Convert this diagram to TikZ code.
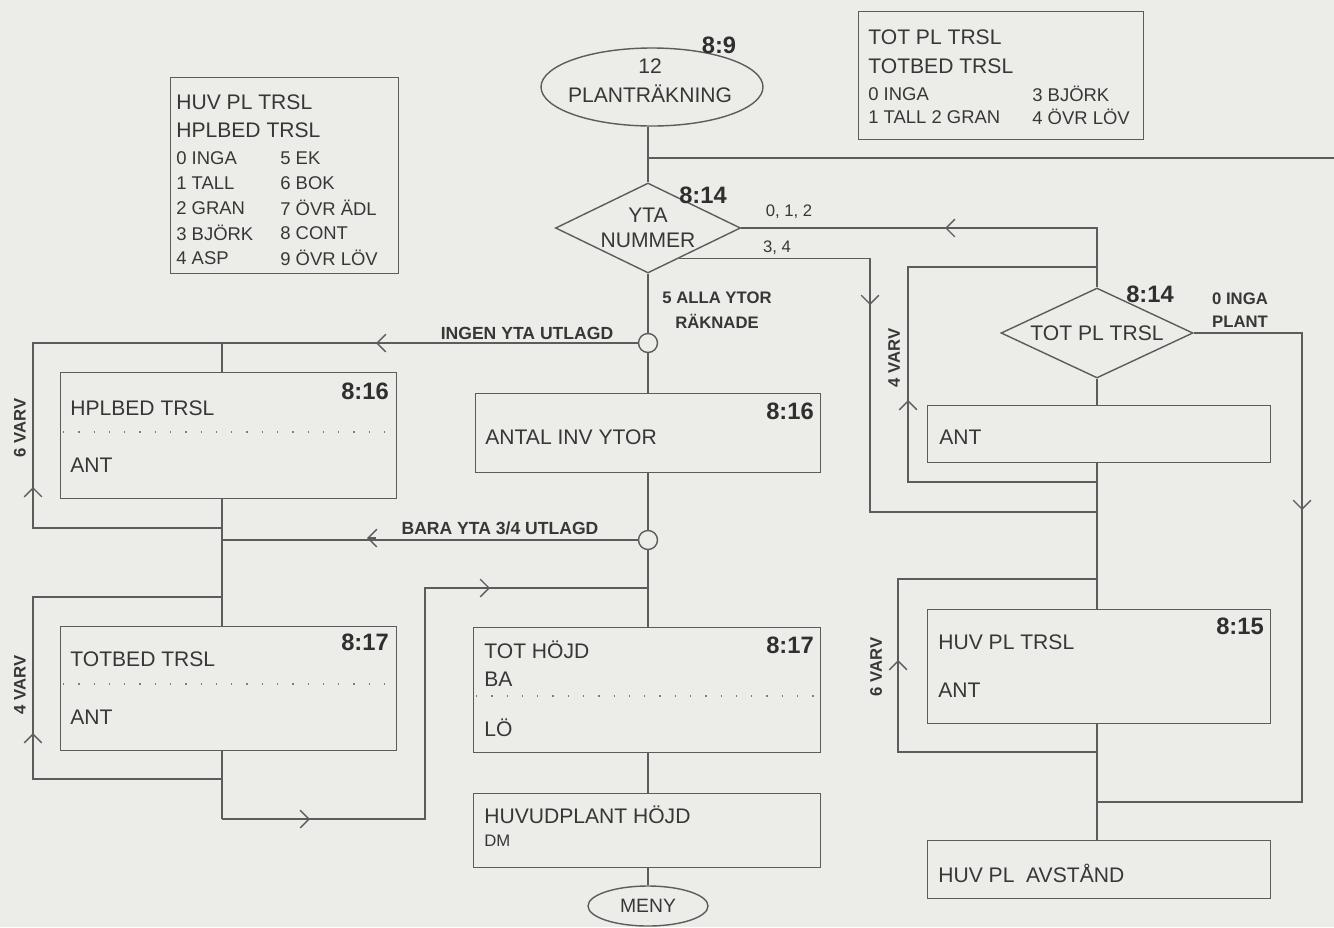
\documentclass[tikz,border=0pt]{standalone}
\usepackage{fontspec}
\setmainfont{Liberation Sans}
\usepackage{tikz}
\usetikzlibrary{arrows.meta,positioning,calc,shapes.geometric}
\definecolor{PaperGray}{RGB}{236,236,233}
\definecolor{InkGray}{RGB}{92,92,92}
\definecolor{TextGray}{RGB}{55,55,55}

\begin{document}
\begin{tikzpicture}[x=0.02cm,y=-0.02cm,
  line/.style={InkGray, line width=0.8pt},
  box/.style 2 args={draw=InkGray, line width=0.8pt, anchor=north west, inner sep=0pt,
    minimum width=#1*0.02cm, minimum height=#2*0.02cm},
  dia/.style={diamond, aspect=2, draw=InkGray, line width=0.8pt, inner sep=0pt, align=center,
    text=TextGray, font=\fontsize{12}{14}\selectfont},
  oval/.style={ellipse, draw=InkGray, line width=0.8pt, inner sep=0pt, text=TextGray},
  jn/.style={circle, draw=InkGray, line width=0.8pt, fill=PaperGray, minimum size=19*0.02cm, inner sep=0pt},
  lbl/.style={anchor=west, inner sep=0pt, text=TextGray, font=\fontsize{12}{14}\selectfont},
  lgd/.style={lbl, font=\fontsize{10.5}{12}\selectfont},
  num/.style={inner sep=0pt, text=TextGray!85!black, font=\bfseries\fontsize{13.5}{15}\selectfont},
  tag/.style={inner sep=0pt, text=TextGray, font=\bfseries\fontsize{9.5}{11}\selectfont},
  note/.style={inner sep=0pt, text=TextGray, font=\fontsize{9.5}{11}\selectfont},
  sep/.style={InkGray!80, line width=0.7pt, dash pattern=on 0.7pt off 8pt},
  chev/.style={line, -{Straight Barb[length=5pt,width=10pt]}}]
\def\lgdrow{25}
\fill[PaperGray] (0,0) rectangle (1334,927);
\useasboundingbox (0,0) rectangle (1334,927);

% code legends
\node[box={228}{196}] (lgdL) at (170,77) {};
\node[lbl] (lgdL-a) at (176,102) {HUV PL TRSL};
\node[lbl] (lgdL-b) at (176,130) {HPLBED TRSL};
\foreach \i/\a/\b in {0/0 INGA/5 EK,1/1 TALL/6 BOK,2/2 GRAN/7 ÖVR ÄDL,3/3 BJÖRK/8 CONT,4/4 ASP/9 ÖVR LÖV}{
  \node[lgd] (lgdL-l\i) at (176,{158+\lgdrow*\i}) {\a};
  \node[lgd] (lgdL-r\i) at (280,{158+\lgdrow*\i}) {\b};
}
\node[box={285}{128}] (lgdR) at (858,11) {};
\node[lbl] (lgdR-a) at (868,37) {TOT PL TRSL};
\node[lbl] (lgdR-b) at (868,66) {TOTBED TRSL};
\node[lgd] (lgdR-l0) at (868,94) {0 INGA};
\node[lgd] (lgdR-r0) at (1032,94) {3 BJÖRK};
\node[lgd] (lgdR-l1) at (868,117) {1 TALL 2 GRAN};
\node[lgd] (lgdR-r1) at (1032,117) {4 ÖVR LÖV};

% main column
\node[oval, minimum width=222*0.02cm, minimum height=78*0.02cm] (start) at (652,87) {};
\node[lbl, anchor=center] (start-a) at (650,66) {12};
\node[lbl, anchor=center] (start-b) at (650,94) {PLANTRÄKNING};
\node[num] (start-n) at (719,45) {8:9};

\node[dia, minimum width=185*0.02cm, minimum height=90*0.02cm] (yta) at (648,228) {YTA\\NUMMER};
\node[num] (yta-n) at (703,195) {8:14};
\node[note] (yta-e) at (789,212) {0, 1, 2};
\node[note] (yta-f) at (777,248) {3, 4};
\node[tag, align=center, font=\bfseries\fontsize{9.5}{14}\selectfont] (yta-s) at (717,310) {5 ALLA YTOR\\RÄKNADE};

\node[jn] (c1) at (648,343) {};
\node[tag, anchor=south, font=\bfseries\fontsize{10}{11}\selectfont] (c1-t) at (527,340) {INGEN YTA UTLAGD};
\node[box={345}{79}] (antal) at (475,393) {};
\node[lbl] (antal-a) at (485,437) {ANTAL INV YTOR};
\node[num] (antal-n) at (790,411) {8:16};
\node[jn] (c2) at (648,540) {};
\node[tag, anchor=south, font=\bfseries\fontsize{10}{11}\selectfont] (c2-t) at (500,535) {BARA YTA 3/4 UTLAGD};

\node[box={347}{125}] (toth) at (473,627) {};
\node[lbl] (toth-a) at (484,650) {TOT HÖJD};
\node[lbl] (toth-b) at (484,679) {BA};
\node[lbl] (toth-c) at (484,728) {LÖ};
\node[num] (toth-n) at (790,645) {8:17};
\draw[sep] ($(toth.north west)+(3,69)$) -- ($(toth.north east)+(-3,69)$);

\node[box={347}{74}] (huvh) at (473,793) {};
\node[lbl] (huvh-a) at (484,815) {HUVUDPLANT HÖJD};
\node[note, anchor=west] (huvh-b) at (484,841) {DM};
\node[oval, minimum width=120*0.02cm, minimum height=40*0.02cm, font=\fontsize{11}{12}\selectfont] (meny) at (648,906) {MENY};

% left loops
\node[box={336}{126}] (hpl) at (60,372) {};
\node[lbl] (hpl-a) at (70,408) {HPLBED TRSL};
\node[lbl] (hpl-b) at (70,465) {ANT};
\node[num] (hpl-n) at (365,391) {8:16};
\draw[sep] ($(hpl.north west)+(3,60)$) -- ($(hpl.north east)+(-3,60)$);
\node[tag, rotate=90] (hpl-v) at (20,428) {6 VARV};

\node[box={336}{124}] (totbed) at (60,626) {};
\node[lbl] (totbed-a) at (70,659) {TOTBED TRSL};
\node[lbl] (totbed-b) at (70,717) {ANT};
\node[num] (totbed-n) at (365,642) {8:17};
\draw[sep] ($(totbed.north west)+(3,58)$) -- ($(totbed.north east)+(-3,58)$);
\node[tag, rotate=90] (totbed-v) at (20,685) {4 VARV};

% right column
\node[dia, minimum width=192*0.02cm, minimum height=90*0.02cm] (tot) at (1097,333) {TOT PL TRSL};
\node[num] (tot-n) at (1150,294) {8:14};
\node[tag, align=left, font=\bfseries\fontsize{9.5}{13}\selectfont] (tot-e) at (1240,310) {0 INGA\\PLANT};
\node[box={343}{57}] (antR) at (927,405) {};
\node[lbl] (antR-a) at (939,437) {ANT};
\node[tag, rotate=90] (antR-v) at (894,358) {4 VARV};
\node[box={343}{114}] (huvpl) at (927,609) {};
\node[lbl] (huvpl-a) at (938,642) {HUV PL TRSL};
\node[lbl] (huvpl-b) at (938,690) {ANT};
\node[num] (huvpl-n) at (1240,626) {8:15};
\node[tag, rotate=90] (huvpl-v) at (876,667) {6 VARV};
\node[box={343}{58}] (avst) at (927,840) {};
\node[lbl] (avst-a) at (938,873) {HUV PL\ \ AVSTÅND};

% connectors, main column
\coordinate (jtop) at (648,158);
\coordinate (edge) at (1334,158);
\draw[line] (start.south -| yta.north) -- (yta.north);
\draw[line] (jtop) -- (edge);
\draw[line] (yta.south) -- (c1.north);
\draw[line] (c1.south) -- (c1.south |- antal.north);
\draw[line] (c1.south |- antal.south) -- (c2.north);
\draw[line] (c2.south) -- (c2.south |- toth.north);
\draw[line] (c2.south |- toth.south) -- (c2.south |- huvh.north);
\draw[line] (c2.south |- huvh.south) -- (meny.north);

% connectors, left side
\coordinate (lA) at (33,343);
\coordinate (lB) at (222,528);
\coordinate (lm) at (222,343);
\coordinate (lC) at (222,819);
\coordinate (lD) at (222,597);
\coordinate (lF) at (33,779);
\coordinate (lG) at (425,588);
\draw[line] (c1.west) -- (lA) |- (lB);
\draw[line] (lm) -- (lm |- hpl.north);
\draw[line] (lm |- hpl.south) -- (lm |- totbed.north);
\draw[line] (lm |- totbed.south) -- (lC);
\draw[line] (c2.west) -- (c2.west -| lm);
\draw[line] (lD) -| (lF) -- (lF -| lD);
\draw[line] (lC) -| (lG) -- (lG -| c2);

% connectors, right side
\coordinate (r34) at ($(yta.south)!0.33!(yta.east)$);
\coordinate (rA) at (870,512);
\coordinate (rB) at (908,267);
\coordinate (rC) at (908,482);
\coordinate (rD) at (898,579);
\coordinate (rE) at (898,752);
\coordinate (rF) at (1302,802);
\draw[line] (yta.east) -| (tot.north);
\draw[line] (r34) -| (rA) -- (rA -| tot.south);
\draw[line] (tot.south) -- (tot.south |- antR.north);
\draw[line] (tot.south |- antR.south) -- (tot.south |- huvpl.north);
\draw[line] (tot.south |- huvpl.south) -- (tot.south |- avst.north);
\draw[line] (rB -| tot.north) -- (rB) -- (rC) -- (rC -| tot.north);
\draw[line] (rD -| tot.south) -- (rD) -- (rE) -- (rE -| tot.south);
\draw[line] (tot.east) -| (rF) -- (rF -| tot.south);

% direction marks
\foreach \x/\y/\dx/\dy in {945/228/-1/0, 870/305/0/1, 908/400/0/-1, 1302/510/0/1,
  898/660/0/-1, 376/343/-1/0, 33/487/0/-1, 367/538/-1/0, 33/733/0/-1, 310/819/1/0, 490/588/1/0}{
  \draw[chev] ({\x-9*\dx},{\y-9*\dy}) -- (\x,\y);
}
\end{tikzpicture}
\end{document}
